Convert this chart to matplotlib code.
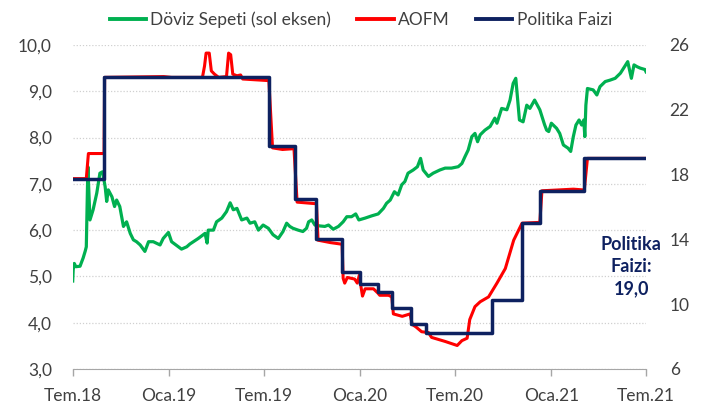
import matplotlib
matplotlib.use("Agg")
import matplotlib.pyplot as plt
import pandas as pd
from matplotlib.lines import Line2D

plt.rcParams["font.family"] = ["Lato", "DejaVu Sans"]

# Döviz sepeti (TL, sol eksen)
basket_dates = [
    "2018-07-15", "2018-07-16", "2018-07-18", "2018-07-21", "2018-07-29",
    "2018-08-04", "2018-08-08", "2018-08-10", "2018-08-13", "2018-08-17", "2018-08-23", "2018-08-30",
    "2018-09-05", "2018-09-10", "2018-09-15", "2018-09-18", "2018-09-21", "2018-09-28",
    "2018-10-03", "2018-10-07", "2018-10-13", "2018-10-20", "2018-10-26",
    "2018-11-02", "2018-11-08", "2018-11-14", "2018-11-21", "2018-11-30",
    "2018-12-07", "2018-12-16", "2018-12-29",
    "2019-01-04", "2019-01-14", "2019-01-20", "2019-02-02", "2019-02-08", "2019-02-18", "2019-02-24",
    "2019-03-12", "2019-03-25", "2019-03-29", "2019-03-31",
    "2019-04-10", "2019-04-16", "2019-04-26", "2019-05-05", "2019-05-12", "2019-05-18", "2019-05-25",
    "2019-06-03", "2019-06-13", "2019-06-19", "2019-06-28", "2019-07-05", "2019-07-14", "2019-07-24",
    "2019-08-02", "2019-08-12", "2019-08-21", "2019-08-28", "2019-09-03", "2019-09-09", "2019-09-19",
    "2019-09-28", "2019-10-05", "2019-10-09", "2019-10-15", "2019-10-21", "2019-10-31",
    "2019-11-09", "2019-11-16", "2019-11-25", "2019-12-05", "2019-12-14", "2019-12-21", "2019-12-30",
    "2020-01-07", "2020-01-13", "2020-01-25", "2020-02-07", "2020-02-19", "2020-02-29",
    "2020-03-06", "2020-03-13", "2020-03-21", "2020-03-28", "2020-04-04", "2020-04-10", "2020-04-16",
    "2020-04-26", "2020-05-04", "2020-05-10", "2020-05-15", "2020-05-25", "2020-06-03", "2020-06-16",
    "2020-06-26", "2020-07-08", "2020-07-21", "2020-07-28", "2020-08-03", "2020-08-09", "2020-08-16",
    "2020-08-22", "2020-08-27", "2020-09-01", "2020-09-10", "2020-09-20", "2020-09-29",
    "2020-10-03", "2020-10-12", "2020-10-22", "2020-10-28", "2020-11-03", "2020-11-08", "2020-11-15",
    "2020-11-22", "2020-11-29", "2020-12-05", "2020-12-14", "2020-12-24",
    "2021-01-02", "2021-01-06", "2021-01-10", "2021-01-15", "2021-01-25", "2021-01-31",
    "2021-02-07", "2021-02-16", "2021-02-21", "2021-02-26", "2021-03-03", "2021-03-09", "2021-03-14",
    "2021-03-18", "2021-03-20", "2021-03-22", "2021-03-25", "2021-04-05", "2021-04-12", "2021-04-18",
    "2021-04-28", "2021-05-07", "2021-05-17", "2021-05-27", "2021-06-06", "2021-06-10", "2021-06-17",
    "2021-06-22", "2021-06-28", "2021-07-04", "2021-07-13", "2021-07-15",
]
basket_values = [
    4.90, 5.15, 5.28, 5.21, 5.22,
    5.40, 5.55, 5.64, 7.37, 6.22, 6.44, 6.80,
    7.23, 7.26, 6.94, 6.62, 6.87, 6.72,
    6.51, 6.65, 6.51, 6.08, 6.18,
    5.93, 5.79, 5.75, 5.68, 5.54,
    5.75, 5.75, 5.68,
    5.82, 5.95, 5.75, 5.64, 5.59, 5.64, 5.70,
    5.82, 5.93, 5.72, 6.00,
    6.00, 6.18, 6.26, 6.40, 6.59, 6.44, 6.47,
    6.22, 6.26, 6.15, 6.18, 6.00, 6.11, 6.04,
    5.90, 5.82, 5.97, 6.15, 6.08, 6.04, 6.00,
    5.97, 6.04, 6.18, 6.22, 6.11, 6.09,
    6.08, 6.11, 6.02, 6.08, 6.18, 6.29, 6.29,
    6.35, 6.22, 6.26, 6.31, 6.35, 6.47,
    6.58, 6.65, 6.83, 6.76, 6.98, 7.05, 7.23,
    7.30, 7.37, 7.55, 7.30, 7.16, 7.23, 7.30,
    7.34, 7.34, 7.37, 7.44, 7.59, 7.73, 8.02,
    8.09, 7.91, 8.06, 8.16, 8.24, 8.42,
    8.31, 8.63, 8.60, 8.81, 9.17, 9.28, 8.38,
    8.34, 8.70, 8.63, 8.81, 8.60,
    8.28, 8.16, 8.13, 8.31, 8.20, 8.09,
    7.84, 7.77, 7.70, 8.02, 8.27, 8.38, 8.27,
    8.38, 8.02, 8.70, 9.06, 9.03, 8.92, 9.10,
    9.21, 9.24, 9.28, 9.39, 9.57, 9.64, 9.28,
    9.57, 9.53, 9.50, 9.47, 9.42,
]

# AOFM (%, sağ eksen)
aofm_dates = [
    "2018-07-15", "2018-08-10", "2018-08-14", "2018-09-13", "2018-09-14",
    "2019-01-05", "2019-01-20", "2019-03-20", "2019-03-24", "2019-03-27", "2019-04-02",
    "2019-04-06", "2019-04-12", "2019-04-20", "2019-05-05", "2019-05-09", "2019-05-13",
    "2019-05-17", "2019-05-25", "2019-06-01", "2019-06-05", "2019-07-25", "2019-08-01",
    "2019-08-20", "2019-09-11", "2019-09-17", "2019-10-24", "2019-10-27", "2019-11-20",
    "2019-12-12", "2019-12-14", "2019-12-17", "2019-12-22", "2020-01-05", "2020-01-10",
    "2020-01-14", "2020-01-17", "2020-01-20", "2020-01-25", "2020-02-10", "2020-02-18",
    "2020-02-22", "2020-03-10", "2020-03-16", "2020-03-19", "2020-04-05", "2020-04-20",
    "2020-04-24", "2020-05-01", "2020-05-12", "2020-05-25", "2020-05-31", "2020-06-26",
    "2020-07-19", "2020-07-28", "2020-08-07", "2020-08-12", "2020-08-22", "2020-09-01",
    "2020-09-17", "2020-10-03", "2020-10-19", "2020-11-04", "2020-11-20", "2020-12-24",
    "2020-12-28", "2021-02-26", "2021-03-19", "2021-03-25", "2021-07-15",
]
aofm_values = [
    17.75, 17.75, 19.30, 19.30, 24.00,
    24.05, 24.00, 24.00, 24.70, 25.50, 25.50,
    24.40, 24.20, 24.00, 24.05, 25.50, 25.40,
    24.20, 24.10, 24.15, 23.90, 23.80, 19.65,
    19.55, 19.60, 16.30, 16.20, 13.95, 13.80,
    13.70, 11.60, 11.30, 11.65, 11.55, 11.30,
    11.80, 11.10, 10.50, 10.95, 10.95, 10.70,
    10.55, 10.55, 10.45, 9.40, 9.25, 9.40,
    8.75, 8.60, 8.30, 8.25, 7.95, 7.70,
    7.45, 7.75, 7.90, 9.05, 9.85, 10.15,
    10.45, 11.30, 12.20, 13.95, 15.00, 15.05,
    17.00, 17.10, 17.05, 19.00, 19.00,
]

# Politika faizi (%, sağ eksen), karar tarihleri
rate_dates = [
    "2018-07-15", "2018-09-13", "2019-07-25", "2019-09-12", "2019-10-24", "2019-12-12",
    "2020-01-16", "2020-02-19", "2020-03-17", "2020-04-22", "2020-05-21", "2020-09-24",
    "2020-11-19", "2020-12-24", "2021-03-18", "2021-07-15",
]
rate_values = [17.75, 24.0, 19.75, 16.5, 14.0, 12.0, 11.25, 10.75, 9.75, 8.75, 8.25,
               10.25, 15.0, 17.0, 19.0, 19.0]

x_tick_dates = ["2018-07-15", "2019-01-15", "2019-07-15", "2020-01-15",
                "2020-07-15", "2021-01-15", "2021-07-15"]
x_tick_labels = ["Tem.18", "Oca.19", "Tem.19", "Oca.20", "Tem.20", "Oca.21", "Tem.21"]
left_ticks = [3, 4, 5, 6, 7, 8, 9, 10]
left_labels = ["3,0", "4,0", "5,0", "6,0", "7,0", "8,0", "9,0", "10,0"]
right_ticks = [6, 10, 14, 18, 22, 26]

GREEN = "#00B050"
RED = "#FF0000"
NAVY = "#0E2160"
TEXT = "#404040"

fig = plt.figure(figsize=(7.1, 4.12), dpi=100)
ax = fig.add_axes([0.1024, 0.1044, 0.8075, 0.7864])
ax2 = ax.twinx()

ax.plot(pd.to_datetime(basket_dates), basket_values, color=GREEN, lw=2.3)
ax2.plot(pd.to_datetime(aofm_dates), aofm_values, color=RED, lw=2.2)
ax2.step(pd.to_datetime(rate_dates), rate_values, where="post", color=NAVY, lw=2.5)

ax.set_xlim(pd.Timestamp(x_tick_dates[0]), pd.Timestamp(x_tick_dates[-1]))
ax.set_ylim(3, 10)
ax2.set_ylim(6, 26)

ax.set_xticks(pd.to_datetime(x_tick_dates))
ax.set_xticklabels(x_tick_labels)
ax.set_yticks(left_ticks)
ax.set_yticklabels(left_labels)
ax2.set_yticks(right_ticks)

ax.tick_params(axis="x", length=5, width=1, color="#A6A6A6", pad=9, labelsize=12.5, labelcolor=TEXT)
ax.tick_params(axis="y", length=0, pad=15, labelsize=12.5, labelcolor=TEXT)
ax2.tick_params(axis="y", length=0, pad=17, labelsize=12.5, labelcolor=TEXT)

ax.grid(axis="y", color="#D0D0D0", linestyle=(0, (1, 1.5)), linewidth=0.9)
ax.set_axisbelow(True)
for a in (ax, ax2):
    for side in ("top", "left", "right"):
        a.spines[side].set_visible(False)
    a.spines["bottom"].set_color("#A6A6A6")
ax2.spines["bottom"].set_visible(False)

ax2.text(0.974, 0.41, "Politika\nFaizi:\n" + f"{rate_values[-1]:.1f}".replace(".", ","),
         transform=ax2.transAxes, ha="center", va="top", color=NAVY,
         fontsize=13, fontweight="bold", linespacing=1.35)

handles = [
    Line2D([], [], color=GREEN, lw=2.8),
    Line2D([], [], color=RED, lw=2.8),
    Line2D([], [], color=NAVY, lw=2.8),
]
fig.legend(handles, ["Döviz Sepeti (sol eksen)", "AOFM", "Politika Faizi"],
           loc="upper center", bbox_to_anchor=(0.508, 1.01), ncol=3, frameon=False,
           fontsize=12.5, handlelength=2.1, handletextpad=0.25, columnspacing=1.5,
           labelcolor=TEXT)

fig.savefig("out.png", dpi=100)
